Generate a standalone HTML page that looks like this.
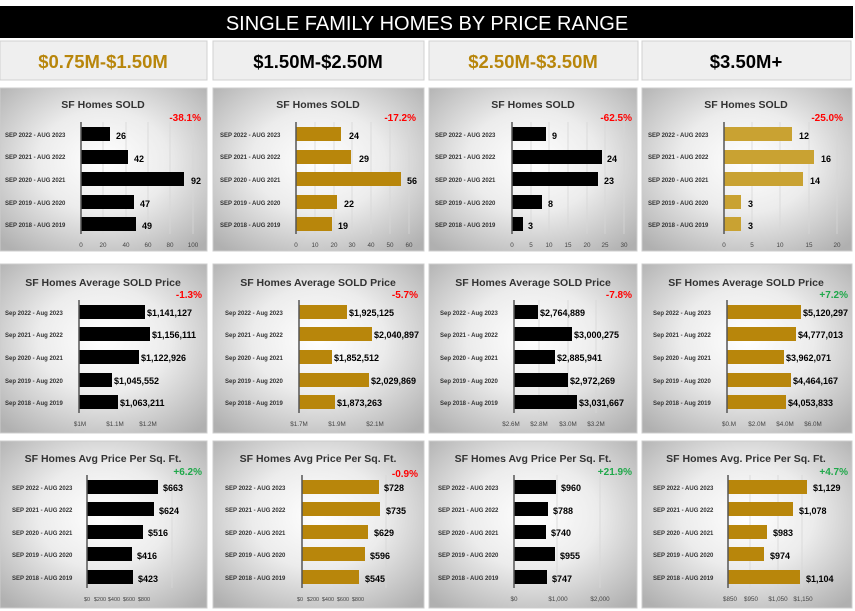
<!DOCTYPE html>
<html><head><meta charset="utf-8"><style>
body{margin:0;background:#fff;}
svg{display:block;font-family:"Liberation Sans",sans-serif;}
.c{font-size:6px;font-weight:bold;fill:#333;}
.v{font-size:9px;font-weight:bold;fill:#000;}
.t{font-size:10.5px;font-weight:bold;fill:#333;text-anchor:middle;}
.r{font-size:10px;font-weight:bold;fill:#f00;text-anchor:end;}
.g{font-size:10px;font-weight:bold;fill:#1fa84a;text-anchor:end;}
.k{font-size:6.3px;fill:#444;text-anchor:middle;}
.gl{stroke:#d6d6d6;stroke-width:.8;}
.ax{stroke:#555;stroke-width:1.5;}
.h{font-size:18.5px;font-weight:bold;text-anchor:middle;}
</style></head><body>
<svg width="855" height="611" viewBox="0 0 855 611" xmlns="http://www.w3.org/2000/svg">
<defs>
<radialGradient id="bg" cx="50%" cy="45%" r="70%"><stop offset="0" stop-color="#ffffff"/><stop offset="0.45" stop-color="#ececec"/><stop offset="1" stop-color="#b0b0b0"/></radialGradient>
</defs>
<rect x="0" y="6" width="853" height="32" fill="#000"/>
<text x="427" y="30" fill="#fff" font-size="20" text-anchor="middle">SINGLE FAMILY HOMES BY PRICE RANGE</text>
<g fill="#efefef" stroke="#d0d0d0">
<rect x="0" y="41" width="207" height="39"/><rect x="213" y="41" width="211" height="39"/><rect x="429" y="41" width="209" height="39"/><rect x="642" y="41" width="209" height="39"/></g>
<text class="h" x="103" y="68" fill="#b8860b">$0.75M-$1.50M</text>
<text class="h" x="318" y="68" fill="#000">$1.50M-$2.50M</text>
<text class="h" x="533" y="68" fill="#b8860b">$2.50M-$3.50M</text>
<text class="h" x="746" y="68" fill="#000">$3.50M+</text>
<g fill="url(#bg)" stroke="#ccc">
<rect x="0" y="88" width="207" height="163"/><rect x="213" y="88" width="211" height="163"/><rect x="429" y="88" width="208" height="163"/><rect x="642" y="88" width="210" height="163"/>
<rect x="0" y="264" width="207" height="169"/><rect x="213" y="264" width="211" height="169"/><rect x="429" y="264" width="208" height="169"/><rect x="642" y="264" width="210" height="169"/>
<rect x="0" y="441" width="207" height="167"/><rect x="213" y="441" width="211" height="167"/><rect x="429" y="441" width="208" height="167"/><rect x="642" y="441" width="210" height="167"/>
</g>

<!-- ROW 1 -->
<g>
<text class="t" x="103" y="108">SF Homes SOLD</text><text class="r" x="201" y="121">-38.1%</text>
<g class="gl"><line x1="103" y1="122" x2="103" y2="234"/><line x1="126" y1="122" x2="126" y2="234"/><line x1="148" y1="122" x2="148" y2="234"/><line x1="170" y1="122" x2="170" y2="234"/><line x1="193" y1="122" x2="193" y2="234"/></g>
<g fill="#000"><rect x="81" y="127" width="29" height="14"/><rect x="81" y="150" width="47" height="14"/><rect x="81" y="172" width="103" height="14"/><rect x="81" y="195" width="53" height="14"/><rect x="81" y="217" width="55" height="14"/></g>
<line class="ax" x1="81" y1="122" x2="81" y2="234"/>
<text class="c" x="5" y="137">SEP 2022 - AUG 2023</text><text class="c" x="5" y="159">SEP 2021 - AUG 2022</text><text class="c" x="5" y="182">SEP 2020 - AUG 2021</text><text class="c" x="5" y="205">SEP 2019 - AUG 2020</text><text class="c" x="5" y="227">SEP 2018 - AUG 2019</text>
<text class="v" x="116" y="139">26</text><text class="v" x="134" y="162">42</text><text class="v" x="191" y="184">92</text><text class="v" x="140" y="207">47</text><text class="v" x="142" y="229">49</text>
<g class="k"><text x="81" y="247">0</text><text x="103" y="247">20</text><text x="126" y="247">40</text><text x="148" y="247">60</text><text x="170" y="247">80</text><text x="193" y="247">100</text></g>
</g>
<g>
<text class="t" x="318" y="108">SF Homes SOLD</text><text class="r" x="416" y="121">-17.2%</text>
<g class="gl"><line x1="315" y1="122" x2="315" y2="234"/><line x1="334" y1="122" x2="334" y2="234"/><line x1="352" y1="122" x2="352" y2="234"/><line x1="371" y1="122" x2="371" y2="234"/><line x1="390" y1="122" x2="390" y2="234"/><line x1="409" y1="122" x2="409" y2="234"/></g>
<g fill="#b8860b"><rect x="296" y="127" width="45" height="14"/><rect x="296" y="150" width="55" height="14"/><rect x="296" y="172" width="105" height="14"/><rect x="296" y="195" width="41" height="14"/><rect x="296" y="217" width="36" height="14"/></g>
<line class="ax" x1="296" y1="122" x2="296" y2="234"/>
<text class="c" x="220" y="137">SEP 2022 - AUG 2023</text><text class="c" x="220" y="159">SEP 2021 - AUG 2022</text><text class="c" x="220" y="182">SEP 2020 - AUG 2021</text><text class="c" x="220" y="205">SEP 2019 - AUG 2020</text><text class="c" x="220" y="227">SEP 2018 - AUG 2019</text>
<text class="v" x="349" y="139">24</text><text class="v" x="359" y="162">29</text><text class="v" x="407" y="184">56</text><text class="v" x="344" y="207">22</text><text class="v" x="338" y="229">19</text>
<g class="k"><text x="296" y="247">0</text><text x="315" y="247">10</text><text x="334" y="247">20</text><text x="352" y="247">30</text><text x="371" y="247">40</text><text x="390" y="247">50</text><text x="409" y="247">60</text></g>
</g>
<g>
<text class="t" x="533" y="108">SF Homes SOLD</text><text class="r" x="632" y="121">-62.5%</text>
<g class="gl"><line x1="531" y1="122" x2="531" y2="234"/><line x1="549" y1="122" x2="549" y2="234"/><line x1="568" y1="122" x2="568" y2="234"/><line x1="587" y1="122" x2="587" y2="234"/><line x1="605" y1="122" x2="605" y2="234"/><line x1="624" y1="122" x2="624" y2="234"/></g>
<g fill="#000"><rect x="512" y="127" width="34" height="14"/><rect x="512" y="150" width="90" height="14"/><rect x="512" y="172" width="86" height="14"/><rect x="512" y="195" width="30" height="14"/><rect x="512" y="217" width="11" height="14"/></g>
<line class="ax" x1="512" y1="122" x2="512" y2="234"/>
<text class="c" x="435" y="137">SEP 2022 - AUG 2023</text><text class="c" x="435" y="159">SEP 2021 - AUG 2022</text><text class="c" x="435" y="182">SEP 2020 - AUG 2021</text><text class="c" x="435" y="205">SEP 2019 - AUG 2020</text><text class="c" x="435" y="227">SEP 2018 - AUG 2019</text>
<text class="v" x="552" y="139">9</text><text class="v" x="607" y="162">24</text><text class="v" x="604" y="184">23</text><text class="v" x="548" y="207">8</text><text class="v" x="528" y="229">3</text>
<g class="k"><text x="512" y="247">0</text><text x="531" y="247">5</text><text x="549" y="247">10</text><text x="568" y="247">15</text><text x="587" y="247">20</text><text x="605" y="247">25</text><text x="624" y="247">30</text></g>
</g>
<g>
<text class="t" x="746" y="108">SF Homes SOLD</text><text class="r" x="843" y="121">-25.0%</text>
<g class="gl"><line x1="752" y1="122" x2="752" y2="234"/><line x1="780" y1="122" x2="780" y2="234"/><line x1="809" y1="122" x2="809" y2="234"/><line x1="837" y1="122" x2="837" y2="234"/></g>
<g fill="#c9a232"><rect x="724" y="127" width="68" height="14"/><rect x="724" y="150" width="90" height="14"/><rect x="724" y="172" width="79" height="14"/><rect x="724" y="195" width="17" height="14"/><rect x="724" y="217" width="17" height="14"/></g>
<line class="ax" x1="724" y1="122" x2="724" y2="234"/>
<text class="c" x="648" y="137">SEP 2022 - AUG 2023</text><text class="c" x="648" y="159">SEP 2021 - AUG 2022</text><text class="c" x="648" y="182">SEP 2020 - AUG 2021</text><text class="c" x="648" y="205">SEP 2019 - AUG 2020</text><text class="c" x="648" y="227">SEP 2018 - AUG 2019</text>
<text class="v" x="799" y="139">12</text><text class="v" x="821" y="162">16</text><text class="v" x="810" y="184">14</text><text class="v" x="748" y="207">3</text><text class="v" x="748" y="229">3</text>
<g class="k"><text x="724" y="247">0</text><text x="752" y="247">5</text><text x="780" y="247">10</text><text x="809" y="247">15</text><text x="837" y="247">20</text></g>
</g>

<!-- ROW 2 -->
<g>
<text class="t" x="103" y="286">SF Homes Average SOLD Price</text><text class="r" x="202" y="298">-1.3%</text>
<g fill="#000"><rect x="79" y="305" width="66" height="14"/><rect x="79" y="327" width="71" height="14"/><rect x="79" y="350" width="60" height="14"/><rect x="79" y="373" width="33" height="14"/><rect x="79" y="395" width="39" height="14"/></g>
<line class="ax" x1="79" y1="300" x2="79" y2="413"/>
<text class="c" x="5" y="315">Sep 2022 - Aug 2023</text><text class="c" x="5" y="337">Sep 2021 - Aug 2022</text><text class="c" x="5" y="360">Sep 2020 - Aug 2021</text><text class="c" x="5" y="383">Sep 2019 - Aug 2020</text><text class="c" x="5" y="405">Sep 2018 - Aug 2019</text>
<text class="v" x="147" y="316">$1,141,127</text><text class="v" x="152" y="338">$1,156,111</text><text class="v" x="141" y="361">$1,122,926</text><text class="v" x="114" y="384">$1,045,552</text><text class="v" x="120" y="406">$1,063,211</text>
<g class="k"><text x="80" y="426">$1M</text><text x="115" y="426">$1.1M</text><text x="148" y="426">$1.2M</text></g>
</g>
<g>
<text class="t" x="318" y="286">SF Homes Average SOLD Price</text><text class="r" x="418" y="298">-5.7%</text>
<g fill="#b8860b"><rect x="299" y="305" width="48" height="14"/><rect x="299" y="327" width="73" height="14"/><rect x="299" y="350" width="33" height="14"/><rect x="299" y="373" width="70" height="14"/><rect x="299" y="395" width="36" height="14"/></g>
<line class="ax" x1="299" y1="300" x2="299" y2="413"/>
<text class="c" x="225" y="315">Sep 2022 - Aug 2023</text><text class="c" x="225" y="337">Sep 2021 - Aug 2022</text><text class="c" x="225" y="360">Sep 2020 - Aug 2021</text><text class="c" x="225" y="383">Sep 2019 - Aug 2020</text><text class="c" x="225" y="405">Sep 2018 - Aug 2019</text>
<text class="v" x="349" y="316">$1,925,125</text><text class="v" x="374" y="338">$2,040,897</text><text class="v" x="334" y="361">$1,852,512</text><text class="v" x="371" y="384">$2,029,869</text><text class="v" x="337" y="406">$1,873,263</text>
<g class="k"><text x="299" y="426">$1.7M</text><text x="337" y="426">$1.9M</text><text x="375" y="426">$2.1M</text></g>
</g>
<g>
<text class="t" x="533" y="286">SF Homes Average SOLD Price</text><text class="r" x="632" y="298">-7.8%</text>
<g class="gl"><line x1="539" y1="300" x2="539" y2="413"/><line x1="568" y1="300" x2="568" y2="413"/><line x1="596" y1="300" x2="596" y2="413"/></g>
<g fill="#000"><rect x="514" y="305" width="24" height="14"/><rect x="514" y="327" width="58" height="14"/><rect x="514" y="350" width="41" height="14"/><rect x="514" y="373" width="54" height="14"/><rect x="514" y="395" width="63" height="14"/></g>
<line class="ax" x1="514" y1="300" x2="514" y2="413"/>
<text class="c" x="440" y="315">Sep 2022 - Aug 2023</text><text class="c" x="440" y="337">Sep 2021 - Aug 2022</text><text class="c" x="440" y="360">Sep 2020 - Aug 2021</text><text class="c" x="440" y="383">Sep 2019 - Aug 2020</text><text class="c" x="440" y="405">Sep 2018 - Aug 2019</text>
<text class="v" x="540" y="316">$2,764,889</text><text class="v" x="574" y="338">$3,000,275</text><text class="v" x="557" y="361">$2,885,941</text><text class="v" x="570" y="384">$2,972,269</text><text class="v" x="579" y="406">$3,031,667</text>
<g class="k"><text x="511" y="426">$2.6M</text><text x="539" y="426">$2.8M</text><text x="568" y="426">$3.0M</text><text x="596" y="426">$3.2M</text></g>
</g>
<g>
<text class="t" x="746" y="286">SF Homes Average SOLD Price</text><text class="g" x="848" y="298">+7.2%</text>
<g fill="#b8860b"><rect x="727" y="305" width="74" height="14"/><rect x="727" y="327" width="69" height="14"/><rect x="727" y="350" width="57" height="14"/><rect x="727" y="373" width="64" height="14"/><rect x="727" y="395" width="59" height="14"/></g>
<line class="ax" x1="727" y1="300" x2="727" y2="413"/>
<text class="c" x="653" y="315">Sep 2022 - Aug 2023</text><text class="c" x="653" y="337">Sep 2021 - Aug 2022</text><text class="c" x="653" y="360">Sep 2020 - Aug 2021</text><text class="c" x="653" y="383">Sep 2019 - Aug 2020</text><text class="c" x="653" y="405">Sep 2018 - Aug 2019</text>
<text class="v" x="803" y="316">$5,120,297</text><text class="v" x="798" y="338">$4,777,013</text><text class="v" x="786" y="361">$3,962,071</text><text class="v" x="793" y="384">$4,464,167</text><text class="v" x="788" y="406">$4,053,833</text>
<g class="k"><text x="729" y="426">$0.M</text><text x="757" y="426">$2.0M</text><text x="785" y="426">$4.0M</text><text x="813" y="426">$6.0M</text></g>
</g>

<!-- ROW 3 -->
<g>
<text class="t" x="103" y="462">SF Homes Avg Price Per Sq. Ft.</text><text class="g" x="202" y="475">+6.2%</text>
<g class="gl"><line x1="172" y1="475" x2="172" y2="588"/></g>
<g fill="#000"><rect x="87" y="480" width="71" height="14"/><rect x="87" y="502" width="67" height="14"/><rect x="87" y="525" width="56" height="14"/><rect x="87" y="547" width="45" height="14"/><rect x="87" y="570" width="46" height="14"/></g>
<line class="ax" x1="87" y1="475" x2="87" y2="588"/>
<text class="c" x="12" y="490">SEP 2022 - AUG 2023</text><text class="c" x="12" y="512">SEP 2021 - AUG 2022</text><text class="c" x="12" y="535">SEP 2020 - AUG 2021</text><text class="c" x="12" y="557">SEP 2019 - AUG 2020</text><text class="c" x="12" y="580">SEP 2018 - AUG 2019</text>
<text class="v" x="163" y="491">$663</text><text class="v" x="159" y="514">$624</text><text class="v" x="148" y="536">$516</text><text class="v" x="137" y="559">$416</text><text class="v" x="138" y="582">$423</text>
<g class="k" font-size="5.5"><text x="87" y="601" font-size="5.5">$0</text><text x="100" y="601" font-size="5.5">$200</text><text x="114" y="601" font-size="5.5">$400</text><text x="129" y="601" font-size="5.5">$600</text><text x="144" y="601" font-size="5.5">$800</text></g>
</g>
<g>
<text class="t" x="318" y="462">SF Homes Avg Price Per Sq. Ft.</text><text class="r" x="418" y="477">-0.9%</text>
<g class="gl"><line x1="386" y1="475" x2="386" y2="588"/></g>
<g fill="#b8860b"><rect x="302" y="480" width="77" height="14"/><rect x="302" y="502" width="78" height="14"/><rect x="302" y="525" width="66" height="14"/><rect x="302" y="547" width="63" height="14"/><rect x="302" y="570" width="57" height="14"/></g>
<line class="ax" x1="302" y1="475" x2="302" y2="588"/>
<text class="c" x="225" y="490">SEP 2022 - AUG 2023</text><text class="c" x="225" y="512">SEP 2021 - AUG 2022</text><text class="c" x="225" y="535">SEP 2020 - AUG 2021</text><text class="c" x="225" y="557">SEP 2019 - AUG 2020</text><text class="c" x="225" y="580">SEP 2018 - AUG 2019</text>
<text class="v" x="384" y="491">$728</text><text class="v" x="386" y="514">$735</text><text class="v" x="374" y="536">$629</text><text class="v" x="370" y="559">$596</text><text class="v" x="365" y="582">$545</text>
<g class="k"><text x="300" y="601" font-size="5.5">$0</text><text x="313" y="601" font-size="5.5">$200</text><text x="328" y="601" font-size="5.5">$400</text><text x="343" y="601" font-size="5.5">$600</text><text x="358" y="601" font-size="5.5">$800</text></g>
</g>
<g>
<text class="t" x="533" y="462">SF Homes Avg Price Per Sq. Ft.</text><text class="g" x="632" y="475">+21.9%</text>
<g class="gl"><line x1="557" y1="475" x2="557" y2="588"/><line x1="600" y1="475" x2="600" y2="588"/></g>
<g fill="#000"><rect x="514" y="480" width="42" height="14"/><rect x="514" y="502" width="34" height="14"/><rect x="514" y="525" width="32" height="14"/><rect x="514" y="547" width="41" height="14"/><rect x="514" y="570" width="33" height="14"/></g>
<line class="ax" x1="514" y1="475" x2="514" y2="588"/>
<text class="c" x="438" y="490">SEP 2022 - AUG 2023</text><text class="c" x="438" y="512">SEP 2021 - AUG 2022</text><text class="c" x="438" y="535">SEP 2020 - AUG 2021</text><text class="c" x="438" y="557">SEP 2019 - AUG 2020</text><text class="c" x="438" y="580">SEP 2018 - AUG 2019</text>
<text class="v" x="561" y="491">$960</text><text class="v" x="553" y="514">$788</text><text class="v" x="551" y="536">$740</text><text class="v" x="560" y="559">$955</text><text class="v" x="552" y="582">$747</text>
<g class="k"><text x="514" y="601">$0</text><text x="558" y="601">$1,000</text><text x="600" y="601">$2,000</text></g>
</g>
<g>
<text class="t" x="746" y="462">SF Homes Avg. Price Per Sq. Ft.</text><text class="g" x="848" y="475">+4.7%</text>
<g class="gl"><line x1="750" y1="475" x2="750" y2="588"/><line x1="778" y1="475" x2="778" y2="588"/><line x1="802" y1="475" x2="802" y2="588"/></g>
<g fill="#b8860b"><rect x="728" y="480" width="79" height="14"/><rect x="728" y="502" width="65" height="14"/><rect x="728" y="525" width="39" height="14"/><rect x="728" y="547" width="36" height="14"/><rect x="728" y="570" width="72" height="14"/></g>
<line class="ax" x1="728" y1="475" x2="728" y2="588"/>
<text class="c" x="653" y="490">SEP 2022 - AUG 2023</text><text class="c" x="653" y="512">SEP 2021 - AUG 2022</text><text class="c" x="653" y="535">SEP 2020 - AUG 2021</text><text class="c" x="653" y="557">SEP 2019 - AUG 2020</text><text class="c" x="653" y="580">SEP 2018 - AUG 2019</text>
<text class="v" x="813" y="491">$1,129</text><text class="v" x="799" y="514">$1,078</text><text class="v" x="773" y="536">$983</text><text class="v" x="770" y="559">$974</text><text class="v" x="806" y="582">$1,104</text>
<g class="k"><text x="730" y="601">$850</text><text x="751" y="601">$950</text><text x="778" y="601">$1,050</text><text x="803" y="601">$1,150</text></g>
</g>
</svg>
</body></html>
